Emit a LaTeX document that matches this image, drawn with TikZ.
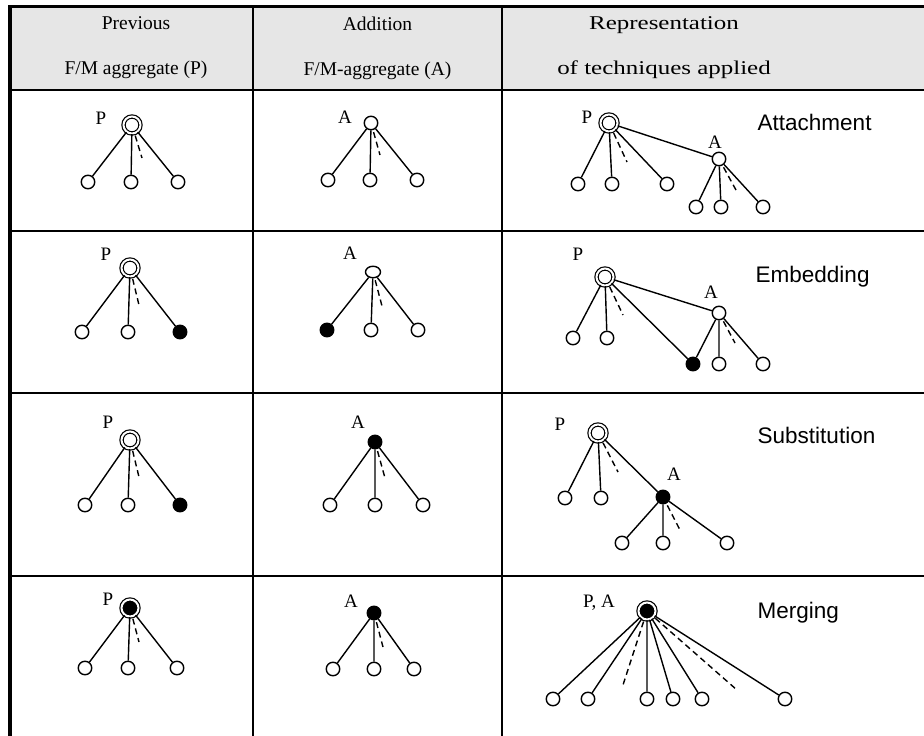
\documentclass[tikz,border=0pt]{standalone}
\usepackage{fontspec}
\setmainfont{Liberation Serif}
\newfontfamily\techfont{Liberation Sans}
\newfontfamily\wideserif[FakeStretch=1.28]{Liberation Serif}
\usetikzlibrary{shapes.geometric}
\definecolor{headgray}{RGB}{230,230,230}

\begin{document}
\begin{tikzpicture}[x=1pt, y=-1pt, line width=1.4pt,
    leaf/.style={draw, circle, minimum size=13.5pt, inner sep=0pt},
    leafdot/.style={leaf, fill=black},
    rootoval/.style={draw, ellipse, minimum width=15pt, minimum height=11.5pt, inner sep=0pt},
    rootring/.style={draw, circle, double, double distance=2pt, line width=1.2pt, minimum size=17pt, inner sep=0pt},
    rootdot/.style={rootring, fill=black},
    tag/.style={font=\fontsize{19}{19}\selectfont, anchor=base, inner sep=0pt},
    technique/.style={font=\techfont\fontsize{22.5}{22.5}\selectfont, anchor=base west, inner sep=0pt},
    header/.style={align=center, font=\fontsize{19.5}{45}\selectfont},
    rule/.style={line width=2.4pt},
    dots/.style={dash pattern=on 6pt off 4pt, shorten <=2pt}]
        \useasboundingbox (0,0) rectangle (924,736);

        % Table
        \fill[headgray] (10,6) rectangle (924,90);
        \draw[line width=3pt] (8,6.5) -- (924,6.5);
        \draw[line width=3.8pt] (10,5) -- (10,736);
        \draw[rule] (10,90) -- (924,90);
        \draw[rule] (10,231) -- (924,231);
        \draw[rule] (10,393) -- (924,393);
        \draw[rule] (10,576) -- (924,576);
        \draw[rule] (253,6) -- (253,736);
        \draw[rule] (502,6) -- (502,736);

        % Header
        \node[header] (head_prev) at (136,48) {Previous\\F/M aggregate (P)};
        \node[header] (head_add) at (377.5,48) {Addition\\F/M-aggregate (A)};
        \node[header, font=\wideserif\fontsize{19.5}{45}\selectfont] (head_rep) at (664,48) {Representation\\of techniques applied};

        % Previous aggregates
        \node[rootring] (prev1) at (132,125) {};
        \node[tag] (prev1_tag) at (101,124) {P};
        \node[leaf] (prev1_a) at (88,182) {};
        \node[leaf] (prev1_b) at (131,182) {};
        \node[leaf] (prev1_c) at (178,182) {};
        \coordinate (prev1_d) at (142,158);

        \node[rootring] (prev2) at (130,268) {};
        \node[tag] (prev2_tag) at (106,260) {P};
        \node[leaf] (prev2_a) at (82,332) {};
        \node[leaf] (prev2_b) at (128,332) {};
        \node[leafdot] (prev2_c) at (180,332) {};
        \coordinate (prev2_d) at (139,305);

        \node[rootring] (prev3) at (130,440) {};
        \node[tag] (prev3_tag) at (108,428) {P};
        \node[leaf] (prev3_a) at (85,505) {};
        \node[leaf] (prev3_b) at (128,505) {};
        \node[leafdot] (prev3_c) at (180,505) {};
        \coordinate (prev3_d) at (139,477);

        \node[rootdot] (prev4) at (130,608) {};
        \node[tag] (prev4_tag) at (108,605) {P};
        \node[leaf] (prev4_a) at (85,668) {};
        \node[leaf] (prev4_b) at (128,668) {};
        \node[leaf] (prev4_c) at (177,668) {};
        \coordinate (prev4_d) at (139,642);

        % Addition aggregates
        \node[leaf] (add1) at (371,123) {};
        \node[tag] (add1_tag) at (345,123) {A};
        \node[leaf] (add1_a) at (328,180) {};
        \node[leaf] (add1_b) at (370,180) {};
        \node[leaf] (add1_c) at (417,180) {};
        \coordinate (add1_d) at (380,155);

        \node[rootoval] (add2) at (373,272) {};
        \node[tag] (add2_tag) at (350,259) {A};
        \node[leafdot] (add2_a) at (327,330) {};
        \node[leaf] (add2_b) at (371,330) {};
        \node[leaf] (add2_c) at (418,330) {};
        \coordinate (add2_d) at (382,306);

        \node[leafdot] (add3) at (375,442) {};
        \node[tag] (add3_tag) at (358,428) {A};
        \node[leaf] (add3_a) at (330,505) {};
        \node[leaf] (add3_b) at (375,505) {};
        \node[leaf] (add3_c) at (423,505) {};
        \coordinate (add3_d) at (385,478);

        \node[leafdot] (add4) at (374,613) {};
        \node[tag] (add4_tag) at (351,607) {A};
        \node[leaf] (add4_a) at (333,669) {};
        \node[leaf] (add4_b) at (374,669) {};
        \node[leaf] (add4_c) at (414,669) {};
        \coordinate (add4_d) at (383,647);

        % Attachment
        \node[rootring] (rep1_p) at (609,123) {};
        \node[tag] (rep1_ptag) at (587,123) {P};
        \node[leaf] (rep1_pa) at (578,184) {};
        \node[leaf] (rep1_pb) at (612,184) {};
        \node[leaf] (rep1_pc) at (667,184) {};
        \coordinate (rep1_pd) at (627,162);
        \node[leaf] (rep1_a) at (719,159) {};
        \node[tag] (rep1_atag) at (715,148) {A};
        \node[leaf] (rep1_aa) at (696,207) {};
        \node[leaf] (rep1_ab) at (721,207) {};
        \node[leaf] (rep1_ac) at (763,207) {};
        \coordinate (rep1_ad) at (736,190);
        \node[technique] (tech_attach) at (757,130) {Attachment};

        % Embedding
        \node[rootring] (rep2_p) at (605,277) {};
        \node[tag] (rep2_ptag) at (578,260) {P};
        \node[leaf] (rep2_pa) at (573,338) {};
        \node[leaf] (rep2_pb) at (607,338) {};
        \coordinate (rep2_pd) at (623,315);
        \node[leaf] (rep2_a) at (719,313) {};
        \node[tag] (rep2_atag) at (711,298) {A};
        \node[leafdot] (rep2_x) at (693,364) {};
        \node[leaf] (rep2_aa) at (719,364) {};
        \node[leaf] (rep2_ab) at (763,364) {};
        \coordinate (rep2_ad) at (735,343);
        \node[technique] (tech_embed) at (755,282) {Embedding};

        % Substitution
        \node[rootring] (rep3_p) at (598,433) {};
        \node[tag] (rep3_ptag) at (560,430) {P};
        \node[leaf] (rep3_pa) at (565,498) {};
        \node[leaf] (rep3_pb) at (601,498) {};
        \coordinate (rep3_pd) at (618,472);
        \node[leafdot] (rep3_a) at (663,497) {};
        \node[tag] (rep3_atag) at (674,480) {A};
        \node[leaf] (rep3_aa) at (622,543) {};
        \node[leaf] (rep3_ab) at (663,543) {};
        \node[leaf] (rep3_ac) at (727,543) {};
        \coordinate (rep3_ad) at (680,530);
        \node[technique] (tech_subst) at (757,443) {Substitution};

        % Merging
        \node[rootdot] (rep4) at (647,611) {};
        \node[tag] (rep4_tag) at (599,607) {P, A};
        \node[leaf] (rep4_a) at (553,699) {};
        \node[leaf] (rep4_b) at (588,699) {};
        \node[leaf] (rep4_c) at (647,699) {};
        \node[leaf] (rep4_d) at (673,699) {};
        \node[leaf] (rep4_e) at (702,699) {};
        \node[leaf] (rep4_f) at (785,699) {};
        \coordinate (rep4_g) at (623,685);
        \coordinate (rep4_h) at (737,690);
        \node[technique] (tech_merge) at (757,618) {Merging};

        % Connections
        \draw (prev1) -- (prev1_a) (prev1) -- (prev1_b) (prev1) -- (prev1_c);
        \draw (prev2) -- (prev2_a) (prev2) -- (prev2_b) (prev2) -- (prev2_c);
        \draw (prev3) -- (prev3_a) (prev3) -- (prev3_b) (prev3) -- (prev3_c);
        \draw (prev4) -- (prev4_a) (prev4) -- (prev4_b) (prev4) -- (prev4_c);
        \draw (add1) -- (add1_a) (add1) -- (add1_b) (add1) -- (add1_c);
        \draw (add2) -- (add2_a) (add2) -- (add2_b) (add2) -- (add2_c);
        \draw (add3) -- (add3_a) (add3) -- (add3_b) (add3) -- (add3_c);
        \draw (add4) -- (add4_a) (add4) -- (add4_b) (add4) -- (add4_c);
        \draw (rep1_p) -- (rep1_pa) (rep1_p) -- (rep1_pb) (rep1_p) -- (rep1_pc) (rep1_p) -- (rep1_a);
        \draw (rep1_a) -- (rep1_aa) (rep1_a) -- (rep1_ab) (rep1_a) -- (rep1_ac);
        \draw (rep2_p) -- (rep2_pa) (rep2_p) -- (rep2_pb) (rep2_p) -- (rep2_x) (rep2_p) -- (rep2_a);
        \draw (rep2_a) -- (rep2_x) (rep2_a) -- (rep2_aa) (rep2_a) -- (rep2_ab);
        \draw (rep3_p) -- (rep3_pa) (rep3_p) -- (rep3_pb) (rep3_p) -- (rep3_a);
        \draw (rep3_a) -- (rep3_aa) (rep3_a) -- (rep3_ab) (rep3_a) -- (rep3_ac);
        \draw (rep4) -- (rep4_a) (rep4) -- (rep4_b) (rep4) -- (rep4_c) (rep4) -- (rep4_d) (rep4) -- (rep4_e) (rep4) -- (rep4_f);

        % Dashed continuations
        \draw[dots] (prev1) -- (prev1_d);
        \draw[dots] (prev2) -- (prev2_d);
        \draw[dots] (prev3) -- (prev3_d);
        \draw[dots] (prev4) -- (prev4_d);
        \draw[dots] (add1) -- (add1_d);
        \draw[dots] (add2) -- (add2_d);
        \draw[dots] (add3) -- (add3_d);
        \draw[dots] (add4) -- (add4_d);
        \draw[dots] (rep1_p) -- (rep1_pd);
        \draw[dots] (rep1_a) -- (rep1_ad);
        \draw[dots] (rep2_p) -- (rep2_pd);
        \draw[dots] (rep2_a) -- (rep2_ad);
        \draw[dots] (rep3_p) -- (rep3_pd);
        \draw[dots] (rep3_a) -- (rep3_ad);
        \draw[dots] (rep4) -- (rep4_g);
        \draw[dots] (rep4) -- (rep4_h);
    \end{tikzpicture}
\end{document}
